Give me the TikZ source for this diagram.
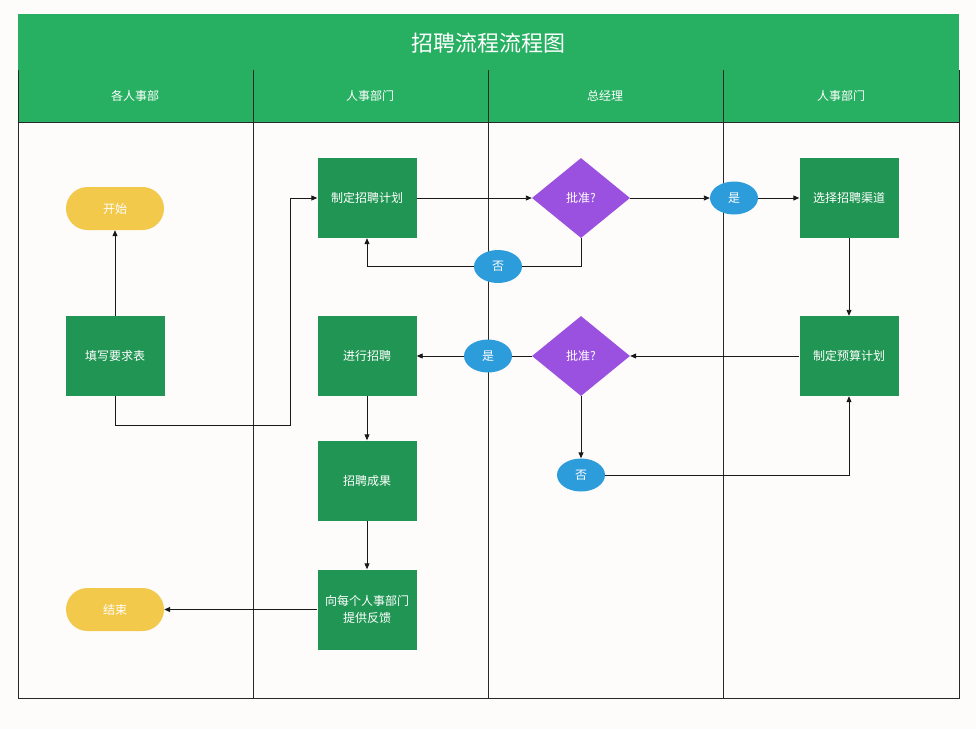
\documentclass[tikz,border=0pt]{standalone}
\usepackage{fontspec}
\newfontfamily\cjk{Noto Sans CJK SC}
\usetikzlibrary{shapes.geometric,arrows.meta}
\definecolor{bandgreen}{RGB}{39,176,98}
\definecolor{boxgreen}{RGB}{33,150,84}
\definecolor{endyellow}{RGB}{243,201,76}
\definecolor{askpurple}{RGB}{155,81,224}
\definecolor{answerblue}{RGB}{45,156,219}
\definecolor{paper}{RGB}{253,252,251}
\definecolor{rule}{RGB}{40,40,40}

\tikzset{
  label/.style={text=white, font=\cjk\fontsize{12}{17}\selectfont, align=center, inner sep=0pt},
  taskbox/.style={label, fill=boxgreen, minimum width=99pt, minimum height=80pt},
  terminal/.style={label, fill=endyellow, rounded corners=21.5pt, minimum width=98pt, minimum height=43pt},
  ask/.style={label, diamond, fill=askpurple, minimum width=98pt, minimum height=80pt},
  answer/.style={label, ellipse, fill=answerblue, minimum width=48pt, minimum height=33pt},
  lane/.style={draw=rule, line width=0.8pt},
  link/.style={draw=black!90, line width=0.9pt},
  flow/.style={link, -{Triangle[length=6pt,width=5pt]}}
}

\begin{document}
\begin{tikzpicture}[x=1pt,y=-1pt]
  %%%%% BACKGROUND %%%%%
  \fill[paper] (0,0) rectangle (976,729);
  \useasboundingbox (0,0) rectangle (976,729);

  %%%%% TITLE AND LANES %%%%%
  \fill[bandgreen] (18,14) rectangle (959,122);
  \node[label, font=\cjk\fontsize{22}{26}\selectfont] (title) at (488,43) {招聘流程流程图};
  \draw[lane] (18,70) -- (18,698) -- (959,698) -- (959,70);
  \draw[lane] (18,122) -- (959,122);
  \foreach \x in {253,488,723}
    \draw[lane] (\x,70) -- (\x,698);
  \node[label] (laneA) at (135,96) {各人事部};
  \node[label] (laneB) at (370,96) {人事部门};
  \node[label] (laneC) at (605,96) {总经理};
  \node[label] (laneD) at (841,96) {人事部门};

  %%%%% NODES %%%%%
  \node[terminal] (start) at (115,208.5) {开始};
  \node[taskbox] (form) at (115,356) {填写要求表};
  \node[terminal] (finish) at (115,609.5) {结束};

  \node[taskbox] (plan) at (367,198) {制定招聘计划};
  \node[taskbox] (recruit) at (367,356) {进行招聘};
  \node[taskbox] (result) at (367,480.5) {招聘成果};
  \node[taskbox] (feedback) at (367,609.5) {向每个人事部门\\提供反馈};

  \node[ask] (askA) at (581,198) {批准?};
  \node[ask] (askB) at (581,356) {批准?};
  \node[answer] (noA) at (498,266.5) {否};
  \node[answer] (yesA) at (734,198) {是};
  \node[answer] (yesB) at (488,356) {是};
  \node[answer] (noB) at (581,475) {否};

  \node[taskbox] (channel) at (849,198) {选择招聘渠道};
  \node[taskbox] (budget) at (849,356) {制定预算计划};

  %%%%% CONNECTORS %%%%%
  \coordinate (turn) at (290,425);
  \draw[flow] (form.north) -- (start.south);
  \draw[flow] (form.south) |- (turn) |- (plan.west);
  \draw[flow] (plan.east) -- (askA.west);
  \draw[flow] (askA.east) -- (yesA.west);
  \draw[flow] (yesA.east) -- (channel.west);
  \draw[link] (askA.south) |- (noA.east);
  \draw[flow] (noA.west) -| (plan.south);
  \draw[flow] (channel.south) -- (budget.north);
  \draw[flow] (budget.west) -- (askB.east);
  \draw[link] (askB.west) -- (yesB.east);
  \draw[flow] (yesB.west) -- (recruit.east);
  \draw[flow] (askB.south) -- (noB.north);
  \draw[flow] (noB.east) -| (budget.south);
  \draw[flow] (recruit.south) -- (result.north);
  \draw[flow] (result.south) -- (feedback.north);
  \draw[flow] (feedback.west) -- (finish.east);
\end{tikzpicture}
\end{document}
